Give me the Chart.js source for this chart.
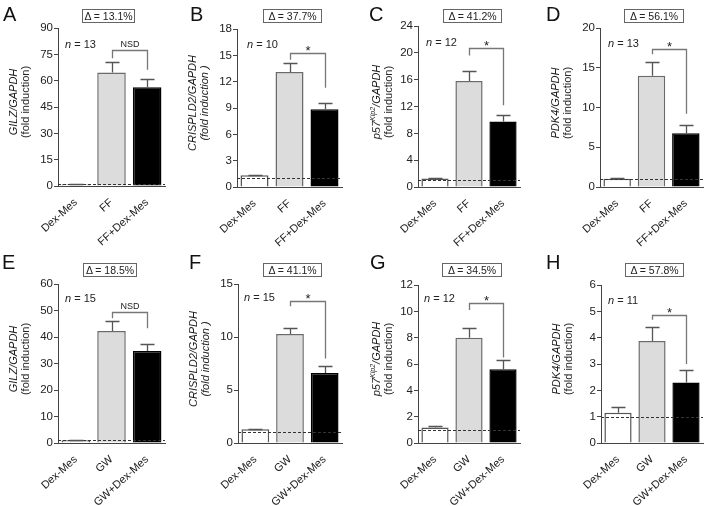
<!DOCTYPE html>
<html><head><meta charset="utf-8">
<script src="https://cdn.jsdelivr.net/npm/chart.js@4.4.0/dist/chart.umd.min.js"></script>
<style>
body{margin:0;background:#fff;width:709px;height:506px;position:relative;overflow:hidden;font-family:"Liberation Sans",Arial,sans-serif;}
canvas{position:absolute;}
.letter{position:absolute;font-size:20px;line-height:20px;color:#111;}
.delta{position:absolute;border:1px solid #666;font-size:10.5px;height:12px;line-height:12px;text-align:center;color:#222;}
.ytitle{position:absolute;width:160px;height:24px;transform:rotate(-90deg);text-align:center;font-size:11px;line-height:12px;color:#222;white-space:nowrap;}
.n{position:absolute;font-size:11px;line-height:12px;color:#222;}
</style></head><body>
<script>
// ---- data ----
const catsFF = ["Dex-Mes", "FF", "FF+Dex-Mes"];
const catsGW = ["Dex-Mes", "GW", "GW+Dex-Mes"];

const meanA = [1.0, 64.6, 56.3];   const semA = [0.2, 6.0, 4.5];
const meanB = [1.35, 13.1, 8.85];  const semB = [0.05, 1.0, 0.75];
const meanC = [1.25, 15.8, 9.75];  const semC = [0.05, 1.45, 1.0];
const meanD = [1.05, 14.0, 6.75];  const semD = [0.06, 1.7, 1.05];
const meanE = [1.0, 42.3, 34.7];   const semE = [0.2, 3.8, 2.5];
const meanF = [1.3, 10.28, 6.6];   const semF = [0.05, 0.57, 0.63];
const meanG = [1.17, 8.0, 5.6];    const semG = [0.15, 0.7, 0.68];
const meanH = [1.15, 3.87, 2.3];   const semH = [0.2, 0.53, 0.47];

// y-axis max and tick step per panel
const yMax  = [90, 18, 24, 20, 60, 15, 12, 6];
const yStep = [15, 3, 4, 5, 10, 5, 2, 1];

const nValues = [13, 10, 12, 13, 15, 15, 12, 11];
const deltas  = ["13.1", "37.7", "41.2", "56.1", "18.5", "41.1", "34.5", "57.8"];
const sigs    = ["NSD", "*", "*", "*", "NSD", "*", "*", "*"];
const letters = ["A", "B", "C", "D", "E", "F", "G", "H"];
const genes   = ["GILZ/GAPDH", "CRISPLD2/GAPDH", "p57<sup style='font-size:7px'>Kip2</sup>/GAPDH", "PDK4/GAPDH",
                 "GILZ/GAPDH", "CRISPLD2/GAPDH", "p57<sup style='font-size:7px'>Kip2</sup>/GAPDH", "PDK4/GAPDH"];
const subItalic = [false, true, false, false, false, true, false, false];

// significance brackets: [left leg bottom, bracket top, right leg bottom] (data units)
const brA = [72.8, 77.2, 66.2];
const brB = [14.5, 15.3, 11.3];
const brC = [19.6, 20.75, 12.2];
const brD = [16.7, 17.4, 9.2];
const brE = [47.1, 49.6, 43.3];
const brF = [12.9, 13.4, 7.96];
const brG = [10.1, 10.6, 6.5];
const brH = [4.68, 4.85, 3.0];
const baselineRef = 1;

// ---- layout ----
const means = [meanA, meanB, meanC, meanD, meanE, meanF, meanG, meanH];
const sems  = [semA, semB, semC, semD, semE, semF, semG, semH];
const brs   = [brA, brB, brC, brD, brE, brF, brG, brH];
const geo = [
 {ax:58,  right:165, top:28,  bottom:186, ptop:0,   lx:3,   ly:4,   dx:82,  dy:9,   dw:51, nx:65,  ny:38},
 {ax:237, right:342, top:29,  bottom:187, ptop:0,   lx:190, ly:4,   dx:263, dy:9,   dw:57, nx:247, ny:38},
 {ax:418, right:520, top:26,  bottom:187, ptop:0,   lx:369, ly:4,   dx:443, dy:9,   dw:57, nx:426, ny:36},
 {ax:600, right:703, top:28,  bottom:187, ptop:0,   lx:546, ly:4,   dx:624, dy:9,   dw:58, nx:608, ny:37},
 {ax:58,  right:165, top:284, bottom:443, ptop:252, lx:2,   ly:252, dx:83,  dy:263, dw:52, nx:65,  ny:292},
 {ax:238, right:342, top:284, bottom:443, ptop:252, lx:189, ly:252, dx:263, dy:263, dw:57, nx:244, ny:291},
 {ax:418, right:520, top:285, bottom:443, ptop:252, lx:370, ly:252, dx:442, dy:263, dw:58, nx:424, ny:292},
 {ax:601, right:703, top:285, bottom:443, ptop:252, lx:546, ly:252, dx:625, dy:263, dw:57, nx:608, ny:294}
];
const Y_W = 58, X_H = 62;

const annot = {
  id: 'annot',
  afterDatasetsDraw(chart, args, o) {
    const ctx = chart.ctx, x = chart.scales.x, y = chart.scales.y, a = chart.chartArea;
    ctx.save();
    // dashed reference line
    ctx.strokeStyle = '#333'; ctx.lineWidth = 1; ctx.setLineDash([3, 2]);
    const yb = Math.round(y.getPixelForValue(o.ref)) + 0.5;
    ctx.beginPath(); ctx.moveTo(a.left, yb); ctx.lineTo(a.right, yb); ctx.stroke();
    ctx.setLineDash([]);
    // error bars
    ctx.strokeStyle = '#555'; ctx.lineWidth = 1.3;
    o.mean.forEach((m, i) => {
      const px = Math.round(x.getPixelForValue(i)) + 0.5;
      const y0 = y.getPixelForValue(m), y1 = Math.round(y.getPixelForValue(m + o.sem[i])) + 0.5;
      ctx.beginPath(); ctx.moveTo(px, y0); ctx.lineTo(px, y1);
      ctx.moveTo(px - 7, y1); ctx.lineTo(px + 7, y1); ctx.stroke();
    });
    // bracket
    const xl = Math.round(x.getPixelForValue(1)) + 0.5, xr = Math.round(x.getPixelForValue(2)) + 0.5;
    const yl = y.getPixelForValue(o.br[0]), yt = Math.round(y.getPixelForValue(o.br[1])) + 0.5, yr = y.getPixelForValue(o.br[2]);
    ctx.strokeStyle = '#777'; ctx.lineWidth = 1.3;
    ctx.beginPath(); ctx.moveTo(xl, yl); ctx.lineTo(xl, yt); ctx.lineTo(xr, yt); ctx.lineTo(xr, yr); ctx.stroke();
    ctx.fillStyle = '#222'; ctx.textAlign = 'center'; ctx.textBaseline = 'alphabetic';
    if (o.sig === '*') { ctx.font = '13px "Liberation Sans", Arial'; ctx.fillText('*', (xl + xr) / 2, yt + 1); }
    else { ctx.font = '9px "Liberation Sans", Arial'; ctx.fillText(o.sig, (xl + xr) / 2, yt - 4); }
    ctx.restore();
  }
};

function addDiv(cls, html, css) {
  const d = document.createElement('div'); d.className = cls; d.innerHTML = html;
  Object.assign(d.style, css); document.body.appendChild(d); return d;
}

for (let k = 0; k < 8; k++) {
  const g = geo[k];
  const cl = g.ax - Y_W, ct = g.ptop;
  const w = g.right - cl + 4, h = g.bottom - ct + X_H;
  const cv = document.createElement('canvas');
  cv.width = w; cv.height = h; cv.style.left = cl + 'px'; cv.style.top = ct + 'px';
  cv.style.width = w + 'px'; cv.style.height = h + 'px';
  document.body.appendChild(cv);
  const cats = k < 4 ? catsFF : catsGW;
  new Chart(cv, {
    type: 'bar',
    data: { labels: cats, datasets: [{
      data: means[k],
      backgroundColor: ['#ffffff', '#dcdcdc', '#000000'],
      borderColor: ['#555555', '#6a6a6a', '#000000'],
      borderWidth: 1.5,
      barPercentage: 0.8, categoryPercentage: 1.0
    }]},
    options: {
      responsive: false, animation: false, devicePixelRatio: 1,
      layout: { padding: { left: 0, right: 4, top: g.top - ct, bottom: 0 } },
      plugins: { legend: { display: false }, tooltip: { enabled: false },
        annot: { mean: means[k], sem: sems[k], br: brs[k], sig: sigs[k], ref: baselineRef } },
      scales: {
        x: {
          grid: { display: false },
          border: { display: true, color: '#444', width: 1 },
          ticks: { color: '#222', font: { size: 11, family: '"Liberation Sans", Arial' }, minRotation: 42, maxRotation: 42, padding: 2, autoSkip: false },
          afterFit: s => { s.height = X_H; }
        },
        y: {
          min: 0, max: yMax[k],
          grid: { display: true, drawOnChartArea: false, drawTicks: true, tickLength: 4, color: '#444' },
          border: { display: true, color: '#444', width: 1 },
          ticks: { stepSize: yStep[k], color: '#222', font: { size: 11.5, family: '"Liberation Sans", Arial' }, padding: 1 },
          afterFit: s => { s.width = Y_W; }
        }
      }
    },
    plugins: [annot]
  });
  // texts
  addDiv('letter', letters[k], { left: g.lx + 'px', top: g.ly + 'px' });
  addDiv('delta', '\u0394 = ' + deltas[k] + '%', { left: g.dx + 'px', top: g.dy + 'px', width: g.dw + 'px' });
  addDiv('n', '<i>n</i> = ' + nValues[k], { left: g.nx + 'px', top: g.ny + 'px' });
  const cx = g.ax - 39, cy = (g.top + g.bottom) / 2 - 5;
  const sub = subItalic[k] ? '<i>(fold induction )</i>' : '(fold induction)';
  addDiv('ytitle', '<i>' + genes[k] + '</i><br>' + sub, { left: (cx - 80) + 'px', top: (cy - 12) + 'px' });
}
</script>
</body></html>
